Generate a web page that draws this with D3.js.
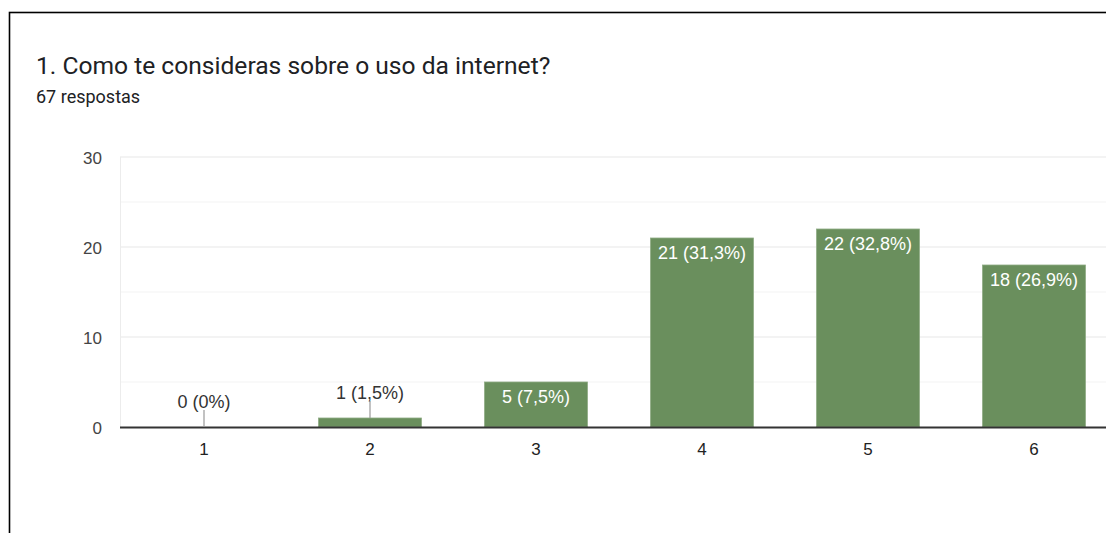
<!DOCTYPE html>
<html>
<head>
<meta charset="utf-8">
<script src="https://cdn.jsdelivr.net/npm/d3@7"></script>
<style>
  html, body { margin: 0; padding: 0; background: #fff; }
  svg { display: block; }
</style>
</head>
<body>
<svg id="chart" width="1106" height="533"></svg>
<script>
// Survey question and answer counts
const title = "1. Como te consideras sobre o uso da internet?";
const subtitle = "67 respostas";
const totalResponses = 67;
const categories = ["1", "2", "3", "4", "5", "6"];
const counts = [0, 1, 5, 21, 22, 18];
const majorTicks = [0, 10, 20, 30];
const minorTicks = [5, 15, 25];

const svg = d3.select("#chart");
const W = 1106, H = 533;

// Card border (continues past the right and bottom edges)
svg.append("rect")
  .attr("x", 9.5).attr("y", 12.5)
  .attr("width", W + 20).attr("height", H + 20)
  .attr("fill", "#fff")
  .attr("stroke", "#000").attr("stroke-width", 1.6);

svg.append("text")
  .attr("x", 36).attr("y", 74)
  .attr("font-family", "Roboto, 'Noto Sans', sans-serif")
  .attr("font-size", 24.6)
  .attr("fill", "#202124")
  .text(title);

svg.append("text")
  .attr("x", 36).attr("y", 103)
  .attr("font-family", "Roboto, 'Noto Sans', sans-serif")
  .attr("font-size", 18)
  .attr("fill", "#202124")
  .text(subtitle);

const chartFont = "'Liberation Sans', Arial, sans-serif";

const x = d3.scaleBand()
  .domain(categories)
  .range([121, 1117])
  .paddingInner(0.38)
  .paddingOuter(0.19);

const y = d3.scaleLinear()
  .domain([0, 30])
  .range([427, 157]);

const plotLeft = 120;

// Gridlines
svg.append("g").selectAll("line")
  .data(minorTicks).join("line")
  .attr("x1", plotLeft).attr("x2", W)
  .attr("y1", d => y(d)).attr("y2", d => y(d))
  .attr("stroke", "#f3f3f3").attr("stroke-width", 1);

svg.append("g").selectAll("line")
  .data(majorTicks.filter(d => d !== 0)).join("line")
  .attr("x1", plotLeft).attr("x2", W)
  .attr("y1", d => y(d)).attr("y2", d => y(d))
  .attr("stroke", "#e8e8e8").attr("stroke-width", 1.2);

// Left edge of the plot area
svg.append("line")
  .attr("x1", plotLeft + 0.5).attr("x2", plotLeft + 0.5)
  .attr("y1", y(30)).attr("y2", y(0))
  .attr("stroke", "#ececec").attr("stroke-width", 1);

// Y axis labels
const yAxis = d3.axisLeft(y).tickValues(majorTicks).tickSize(0).tickPadding(0);
const yg = svg.append("g")
  .attr("transform", "translate(102,0)")
  .call(yAxis);
yg.select(".domain").remove();
yg.selectAll("text")
  .attr("font-family", chartFont)
  .attr("font-size", 17)
  .attr("fill", "#444")
  .attr("dy", "0.36em");

// Bars
const fmtPct = v => {
  const p = v / totalResponses * 100;
  let s = p.toFixed(1);
  if (s.endsWith(".0")) s = s.slice(0, -2);
  return s.replace(".", ",") + "%";
};

svg.append("g").selectAll("rect")
  .data(categories.map((c, i) => ({ c, v: counts[i] })))
  .join("rect")
  .attr("x", d => x(d.c))
  .attr("y", d => y(d.v))
  .attr("width", x.bandwidth())
  .attr("height", d => y(0) - y(d.v))
  .attr("fill", "#6a8f5d")
  .attr("stroke", d => d.v > 0 ? "#8eab84" : "none")
  .attr("stroke-width", 0.8);

// X axis baseline
svg.append("line")
  .attr("x1", plotLeft).attr("x2", W)
  .attr("y1", y(0) + 0.5).attr("y2", y(0) + 0.5)
  .attr("stroke", "#333").attr("stroke-width", 1.8);

// X axis labels
const xAxis = d3.axisBottom(x).tickSize(0).tickPadding(0);
const xg = svg.append("g")
  .attr("transform", `translate(0,${y(0)})`)
  .call(xAxis);
xg.select(".domain").remove();
xg.selectAll("text")
  .attr("font-family", chartFont)
  .attr("font-size", 17)
  .attr("fill", "#222")
  .attr("dy", "1.65em");

// Value annotations
const ann = svg.append("g");
categories.forEach((c, i) => {
  const v = counts[i];
  const cx = x(c) + x.bandwidth() / 2;
  const top = y(v);
  const label = `${v} (${fmtPct(v)})`;
  const inside = (y(0) - top) > 30;
  if (inside) {
    ann.append("text")
      .attr("x", cx).attr("y", top + 21)
      .attr("text-anchor", "middle")
      .attr("font-family", chartFont)
      .attr("font-size", 18)
      .attr("fill", "#fff")
      .text(label);
  } else {
    ann.append("line")
      .attr("x1", cx).attr("x2", cx)
      .attr("y1", top - 17).attr("y2", top)
      .attr("stroke", "#999").attr("stroke-width", 1.2);
    ann.append("text")
      .attr("x", cx).attr("y", top - 19)
      .attr("text-anchor", "middle")
      .attr("font-family", chartFont)
      .attr("font-size", 18)
      .attr("fill", "#333")
      .text(label);
  }
});
</script>
</body>
</html>
